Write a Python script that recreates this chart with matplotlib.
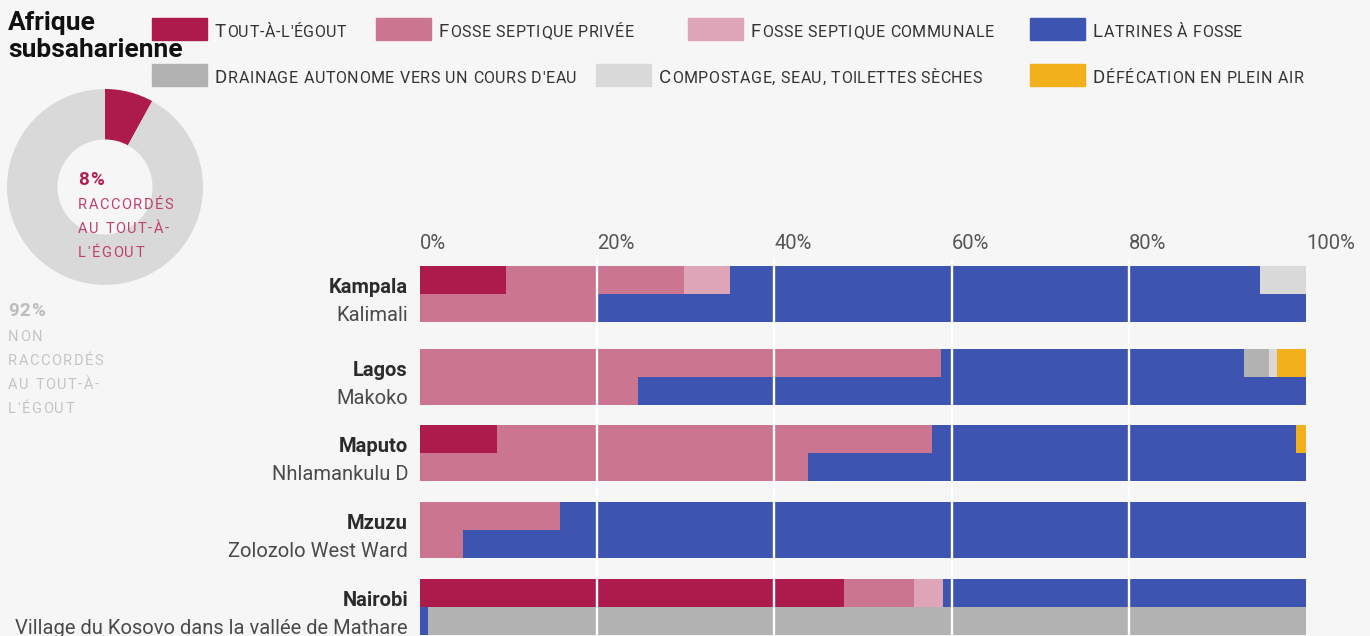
"""Assainissement en Afrique subsaharienne: raccordement au tout-à-l'égout
(donut) et répartition des modes d'assainissement par ville / quartier.
"""

import matplotlib
matplotlib.use("Agg")
import matplotlib.pyplot as plt
import numpy as np

# ---
# Data
# ---

categories = [
    "Tout-à-l'égout",
    "Fosse septique privée",
    "Fosse septique communale",
    "Latrines à fosse",
    "Drainage autonome vers un cours d'eau",
    "Compostage, seau, toilettes sèches",
    "Défécation en plein air",
]
cities = ["Kampala", "Lagos", "Maputo", "Mzuzu", "Nairobi"]
neighbourhoods = [
    "Kalimali",
    "Makoko",
    "Nhlamankulu D",
    "Zolozolo West Ward",
    "Village du Kosovo dans la vallée de Mathare",
]

# share (%) per category, city-wide rows
city_egout = [9.7, 0.0, 8.7, 0.0, 47.9]
city_septic_private = [20.1, 58.8, 49.1, 15.8, 7.8]
city_septic_shared = [5.2, 0.0, 0.0, 0.0, 3.3]
city_latrines = [59.8, 34.2, 41.1, 84.2, 41.0]
city_drainage = [0.0, 2.8, 0.0, 0.0, 0.0]
city_compost = [5.2, 0.9, 0.0, 0.0, 0.0]
city_open = [0.0, 3.3, 1.1, 0.0, 0.0]

# share (%) per category, neighbourhood rows
nb_egout = [0.0, 0.0, 0.0, 0.0, 0.0]
nb_septic_private = [19.9, 24.6, 43.8, 4.9, 0.0]
nb_septic_shared = [0.0, 0.0, 0.0, 0.0, 0.0]
nb_latrines = [80.1, 75.4, 56.2, 95.1, 0.9]
nb_drainage = [0.0, 0.0, 0.0, 0.0, 99.1]
nb_compost = [0.0, 0.0, 0.0, 0.0, 0.0]
nb_open = [0.0, 0.0, 0.0, 0.0, 0.0]

donut_connected = 8
donut_not_connected = 92
x_ticks = [0, 20, 40, 60, 80, 100]

# ---
# Styles / layout
# ---

colors = ["#ad1a4c", "#cc7591", "#dea4b8", "#3d55b0", "#b2b2b2", "#d9d9d9", "#f2b01d"]
bg = "#f6f6f6"
W, H = 1370, 636
FONT = "Roboto"

plt.rcParams["font.family"] = [FONT, "DejaVu Sans"]

# top pixel of each city group, two rows of 28 px each
group_tops = [266, 349, 425, 502, 579]
row_h = 28


def fx(x):
    return x / W


def fy(y):
    return 1 - y / H


fig = plt.figure(figsize=(W / 100, H / 100), dpi=100, facecolor=bg)
renderer = fig.canvas.get_renderer()


def text_width(s, **kw):
    # width of s measured with a bar after it, so spaces and bearings count
    t = fig.text(0, 0, s + "|", **kw)
    r = fig.text(0, 0, "|", **kw)
    w = t.get_window_extent(renderer).width - r.get_window_extent(renderer).width
    t.remove()
    r.remove()
    return w


def tracked_text(x, y, s, tracking=1.0, **kw):
    # draw a string char by char with extra letter spacing (pixels), returns end x
    for i, ch in enumerate(s):
        xi = x + text_width(s[:i], **kw) + i * tracking
        fig.text(fx(xi), fy(y), ch, va="baseline", **kw)
    return x + text_width(s, **kw) + len(s) * tracking


# Title
fig.text(fx(8), fy(30), "Afrique", fontsize=19, fontweight="bold", color="#111111", va="baseline")
fig.text(fx(8), fy(57), "subsaharienne", fontsize=19, fontweight="bold", color="#111111", va="baseline")


# Legend with fake small caps
def small_caps(x, y, label):
    x = tracked_text(x, y, label[0], tracking=0.6, fontsize=13.5, color="#333333")
    tracked_text(x, y, label[1:].upper(), tracking=0.6, fontsize=11.5, color="#333333")


legend_pos = [(152, 18), (376, 18), (688, 18), (1030, 18), (152, 64), (596, 64), (1030, 64)]
for (lx, ly), label, c in zip(legend_pos, categories, colors):
    fig.patches.append(
        plt.Rectangle((fx(lx), fy(ly + 22)), 55 / W, 22 / H, transform=fig.transFigure, color=c)
    )
    small_caps(lx + 63, ly + 19, label)

# Donut
dax = fig.add_axes([fx(7), fy(285), 196 / W, 196 / H])
dax.pie(
    [donut_connected, donut_not_connected],
    colors=[colors[0], "#d9d9d9"],
    startangle=90,
    counterclock=False,
    radius=1.0,
    wedgeprops=dict(width=0.515, linewidth=0),
)
dax.set_xlim(-1, 1)
dax.set_ylim(-1, 1)
dax.axis("off")

tracked_text(78, 185, f"{donut_connected}%", tracking=1.0, fontsize=13.5, fontweight="bold", color="#b01f50")
for i, line in enumerate(["RACCORDÉS", "AU TOUT-À-", "L'ÉGOUT"]):
    tracked_text(78, 209 + 24 * i, line, tracking=1.5, fontsize=10.5, color="#c0406a")

tracked_text(8, 316, f"{donut_not_connected}%", tracking=1.0, fontsize=13.5, fontweight="bold", color="#bcbcbc")
for i, line in enumerate(["NON", "RACCORDÉS", "AU TOUT-À-", "L'ÉGOUT"]):
    tracked_text(8, 341 + 24 * i, line, tracking=1.5, fontsize=10.5, color="#c4c4c4")

# Stacked bars
ax = fig.add_axes([fx(420), 0, (1306 - 420) / W, (H - 259) / H])
ax.set_facecolor(bg)
ax.set_xlim(0, 100)
ax.set_ylim(H, 259)  # pixel units, top down

city_series = [city_egout, city_septic_private, city_septic_shared, city_latrines,
               city_drainage, city_compost, city_open]
nb_series = [nb_egout, nb_septic_private, nb_septic_shared, nb_latrines,
             nb_drainage, nb_compost, nb_open]

tops = np.array(group_tops, dtype=float)
for series, offset in [(city_series, 0), (nb_series, row_h)]:
    left = np.zeros(len(cities))
    centers = tops + offset + row_h / 2
    for vals, c in zip(series, colors):
        vals = np.array(vals)
        ax.barh(centers, vals, left=left, height=row_h, color=c, linewidth=0)
        left += vals

for xt in x_ticks[1:-1]:
    ax.axvline(xt, color="white", lw=1.7, zorder=5)

ax.xaxis.tick_top()
ax.set_xticks(x_ticks)
ax.set_xticklabels([f"{t}%" for t in x_ticks], fontsize=14.5, color="#555555")
for lbl in ax.get_xticklabels():
    lbl.set_horizontalalignment("left")
ax.tick_params(axis="x", length=0, pad=4)
ax.set_yticks([])
for s in ax.spines.values():
    s.set_visible(False)

# City / neighbourhood labels
for top, city, nb in zip(group_tops, cities, neighbourhoods):
    fig.text(fx(408), fy(top + row_h - 1), city, fontsize=14.5, fontweight="bold",
             color="#2b2b2b", ha="right", va="baseline")
    fig.text(fx(408), fy(top + 2 * row_h - 1), nb, fontsize=14.5,
             color="#4a4a4a", ha="right", va="baseline")

fig.savefig("out.png", dpi=100, facecolor=bg)
